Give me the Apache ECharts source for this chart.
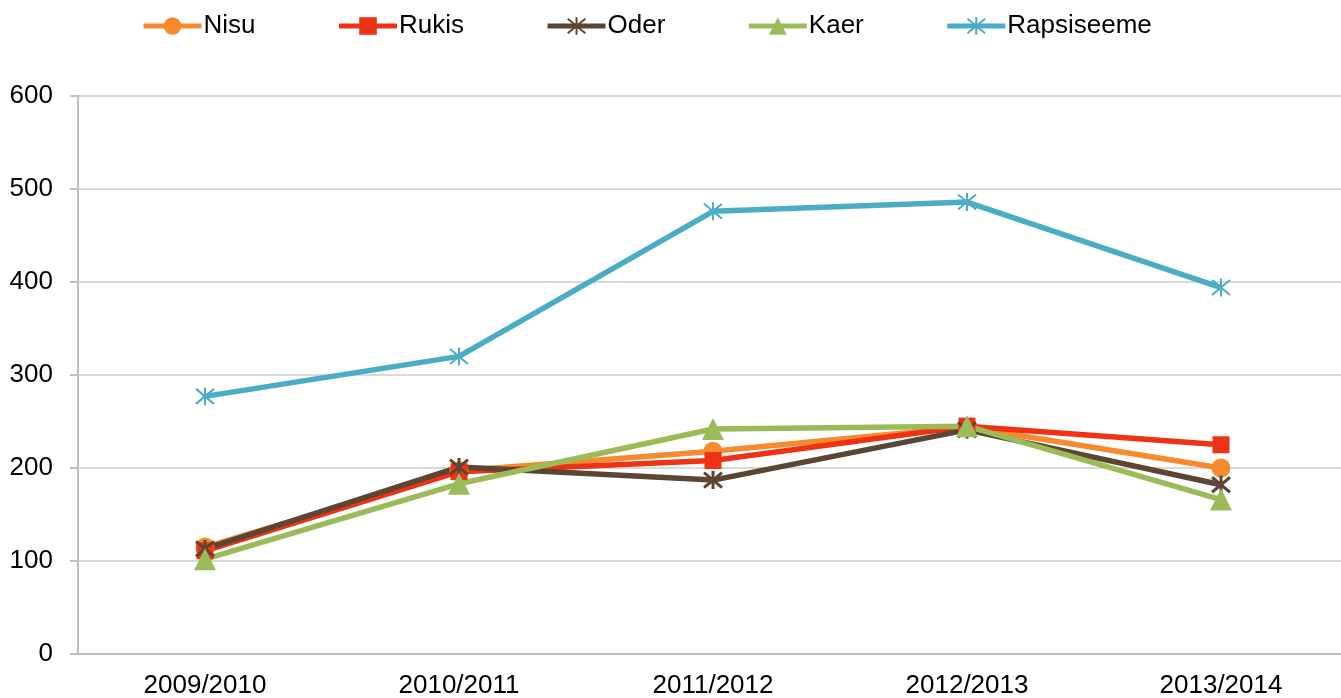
<!DOCTYPE html>
<html>
<head>
<meta charset="utf-8">
<script src="https://cdn.jsdelivr.net/npm/echarts@6/dist/echarts.min.js"></script>
<style>
  html, body { margin: 0; padding: 0; background: #fff; }
  #chart { width: 1341px; height: 698px; }
</style>
</head>
<body>
<div id="chart"></div>
<script>
// data
const categories = ['2009/2010', '2010/2011', '2011/2012', '2012/2013', '2013/2014']
const nisu = [115, 197, 218, 244, 200]
const rukis = [111, 196, 208, 245, 225]
const oder = [113, 201, 187, 241, 182]
const kaer = [102, 183, 242, 245, 166]
const rapsiseeme = [277, 320, 476, 486, 394]
const yTicks = [0, 100, 200, 300, 400, 500, 600]

// asterisk-like markers (stroked only)
const starPath = 'path://M0,0L10,10M10,0L0,10M5,-1L5,11'

function makeSeries (name, data, color, symbol, size, stroked) {
  const s = {
    name: name,
    type: 'line',
    data: data,
    symbol: symbol,
    symbolSize: size,
    showAllSymbol: true,
    lineStyle: { color: color, width: 5.5 },
    itemStyle: { color: color },
    emphasis: { disabled: true },
    z: 2
  }
  if (stroked) {
    s.itemStyle = { color: 'rgba(0,0,0,0)', borderColor: color, borderWidth: stroked }
  }
  return s
}

const chart = echarts.init(document.getElementById('chart'))
chart.setOption({
  animation: false,
  textStyle: { fontFamily: 'Liberation Sans, Arial, sans-serif' },
  legend: {
    top: 8,
    left: 136,
    itemWidth: 58,
    itemHeight: 22,
    itemGap: 81,
    lineStyle: { width: 5 },
    textStyle: { fontSize: 26, color: '#000', padding: [0, 0, 0, -3] },
    data: ['Nisu', 'Rukis', 'Oder', 'Kaer', 'Rapsiseeme']
  },
  grid: {
    left: 78,
    width: 1270,
    top: 96,
    bottom: 44,
    containLabel: false,
    outerBoundsMode: 'none'
  },
  xAxis: {
    type: 'category',
    data: categories,
    boundaryGap: true,
    axisLine: { show: true, lineStyle: { color: '#bfbfbf', width: 2 } },
    axisTick: { show: false },
    axisLabel: { fontSize: 26, color: '#000', margin: 19 }
  },
  yAxis: {
    type: 'value',
    min: yTicks[0],
    max: yTicks[yTicks.length - 1],
    interval: 100,
    axisLine: { show: true, lineStyle: { color: '#bfbfbf', width: 2 } },
    axisTick: { show: true, length: 8, lineStyle: { color: '#bfbfbf', width: 2 } },
    axisLabel: { fontSize: 26, color: '#000', margin: 25 },
    splitLine: { show: true, lineStyle: { color: '#d9d9d9', width: 2 } }
  },
  series: [
    makeSeries('Nisu', nisu, '#f58a2e', 'circle', 19),
    makeSeries('Rukis', rukis, '#ee3314', 'rect', 17),
    makeSeries('Oder', oder, '#5c4532', starPath, 18, 3),
    makeSeries('Kaer', kaer, '#9bbb59', 'triangle', 22),
    makeSeries('Rapsiseeme', rapsiseeme, '#4bacc6', starPath, 18, 2)
  ]
})
</script>
</body>
</html>
